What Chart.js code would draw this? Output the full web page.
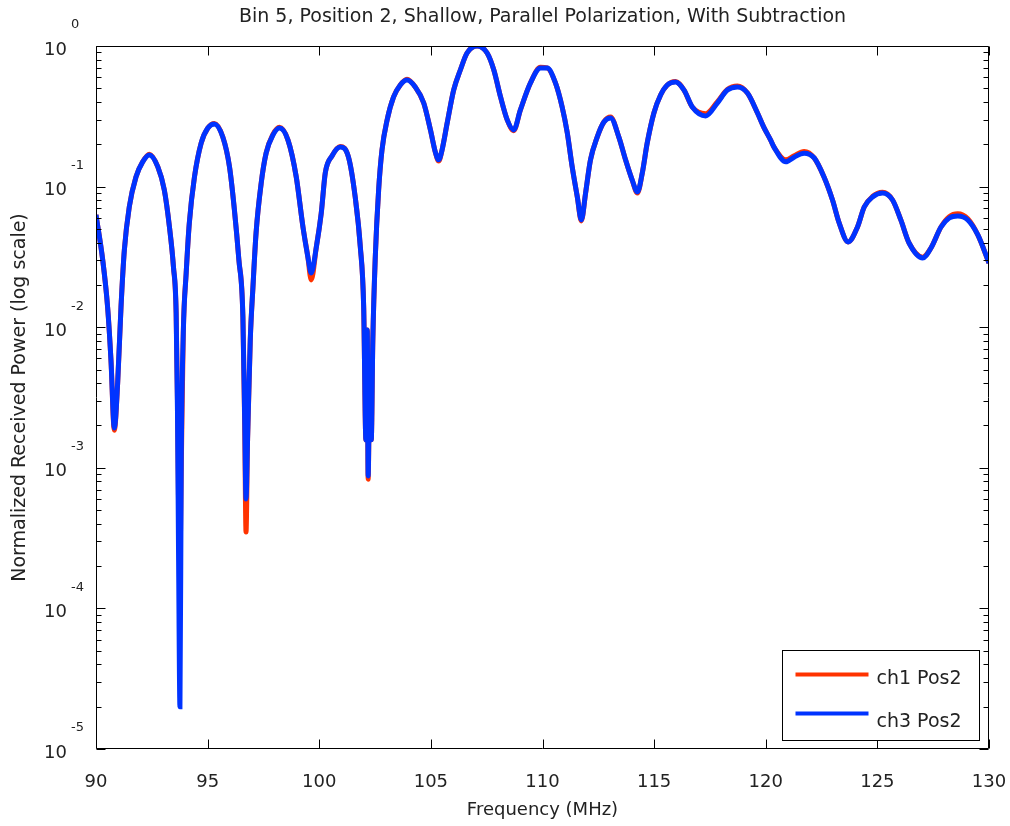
<!DOCTYPE html>
<html>
<head>
<meta charset="utf-8">
<title>Bin 5, Position 2</title>
<script src="https://cdn.jsdelivr.net/npm/chart.js@4.4.1/dist/chart.umd.min.js"></script>
<style>
  html, body { margin: 0; padding: 0; background: #fff; }
</style>
</head>
<body>
<canvas id="powerChart" width="1010" height="826"></canvas>
<script>
// frequency samples (MHz)
const freqMHz = [
  90.00, 90.30, 90.52, 90.67, 90.82, 90.97, 91.12, 91.27, 91.49, 91.79,
  92.09, 92.39, 92.77, 93.06, 93.29, 93.47, 93.59, 93.65, 93.70, 93.76,
  93.82, 93.91, 94.04, 94.18, 94.41, 94.71, 95.01, 95.30, 95.68, 95.98,
  96.20, 96.40, 96.58, 96.66, 96.72, 96.79, 96.91, 97.03, 97.17, 97.40,
  97.62, 97.92, 98.22, 98.60, 98.97, 99.27, 99.49, 99.64, 99.87, 100.09,
  100.27, 100.57, 100.94, 101.31, 101.61, 101.84, 101.99, 102.09, 102.15, 102.19,
  102.26, 102.33, 102.40, 102.51, 102.66, 102.81, 103.04, 103.33, 103.63, 103.93,
  104.30, 104.68, 104.98, 105.20, 105.35, 105.50, 105.73, 106.02, 106.32, 106.62,
  107.07, 107.52, 107.82, 108.12, 108.42, 108.71, 109.01, 109.46, 109.91, 110.21,
  110.58, 110.88, 111.11, 111.33, 111.56, 111.74, 111.93, 112.15, 112.45, 112.75,
  113.05, 113.42, 113.72, 114.02, 114.25, 114.47, 114.69, 114.99, 115.29, 115.59,
  115.96, 116.34, 116.71, 117.31, 117.83, 118.28, 118.73, 119.18, 119.63, 119.91,
  120.22, 120.37, 120.90, 121.27, 121.72, 122.17, 122.61, 122.99, 123.29, 123.69,
  124.11, 124.41, 124.78, 125.23, 125.68, 126.05, 126.42, 127.03, 127.40, 127.85,
  128.22, 128.60, 129.05, 129.50, 130.00
];

// normalized received power, ch3 Pos2 (blue)
const ch3Pos2 = [
  0.063, 0.0301, 0.0139, 0.00585, 0.00192, 0.00401, 0.0139, 0.0354, 0.0716, 0.117,
  0.150, 0.168, 0.138, 0.0946, 0.0516, 0.0268, 0.0126, 0.0025, 0.00022, 0.00002,
  0.0012, 0.0091, 0.0243, 0.0551, 0.117, 0.204, 0.261, 0.279, 0.225, 0.138,
  0.0682, 0.0301, 0.0118, 0.0022, 0.0006, 0.0016, 0.0081, 0.0193, 0.0468, 0.106,
  0.173, 0.232, 0.261, 0.214, 0.117, 0.0516, 0.0316, 0.0243, 0.0372, 0.0649,
  0.125, 0.165, 0.191, 0.162, 0.0843, 0.0372, 0.0139, 0.00158, 0.00955, 0.000875,
  0.00421, 0.00158, 0.0081, 0.0316, 0.0946, 0.182, 0.298, 0.434, 0.528, 0.573,
  0.511, 0.393, 0.253, 0.176, 0.155, 0.182, 0.283, 0.486, 0.675, 0.892,
  1.0, 0.892, 0.675, 0.434, 0.298, 0.253, 0.351, 0.546, 0.698, 0.698,
  0.546, 0.368, 0.241, 0.138, 0.0843, 0.0579, 0.0900, 0.155, 0.225, 0.288,
  0.308, 0.225, 0.155, 0.111, 0.0915, 0.125, 0.204, 0.334, 0.448, 0.528,
  0.555, 0.486, 0.368, 0.318, 0.393, 0.486, 0.511, 0.463, 0.334, 0.265,
  0.214, 0.191, 0.150, 0.162, 0.173, 0.160, 0.117, 0.0803, 0.0551, 0.0404,
  0.0516, 0.0716, 0.0843, 0.0900, 0.0803, 0.0579, 0.0397, 0.0311, 0.0366, 0.0516,
  0.0598, 0.0618, 0.0579, 0.0453, 0.0286
];

// normalized received power, ch1 Pos2 (red) - nearly the same, deeper at some nulls
const ch1Pos2 = [
  0.063, 0.0301, 0.0139, 0.00585, 0.00185, 0.00401, 0.0139, 0.0354, 0.0716, 0.117,
  0.150, 0.170, 0.138, 0.0946, 0.0516, 0.0268, 0.0126, 0.0030, 0.0005, 0.00022,
  0.0010, 0.0091, 0.0243, 0.0551, 0.117, 0.204, 0.261, 0.281, 0.225, 0.138,
  0.0682, 0.0301, 0.0118, 0.0020, 0.00035, 0.0016, 0.0081, 0.0193, 0.0468, 0.106,
  0.173, 0.234, 0.264, 0.214, 0.117, 0.0516, 0.0316, 0.0217, 0.0372, 0.0649,
  0.125, 0.165, 0.193, 0.162, 0.0843, 0.0372, 0.0139, 0.00158, 0.00955, 0.00083,
  0.00421, 0.00158, 0.0081, 0.0316, 0.0946, 0.182, 0.298, 0.434, 0.528, 0.580,
  0.511, 0.393, 0.253, 0.176, 0.152, 0.182, 0.283, 0.486, 0.675, 0.892,
  1.0, 0.892, 0.675, 0.434, 0.298, 0.250, 0.351, 0.546, 0.705, 0.698,
  0.546, 0.368, 0.241, 0.138, 0.0843, 0.0570, 0.0900, 0.155, 0.225, 0.288,
  0.312, 0.225, 0.155, 0.111, 0.0900, 0.125, 0.204, 0.334, 0.448, 0.528,
  0.560, 0.486, 0.368, 0.330, 0.400, 0.490, 0.520, 0.463, 0.334, 0.265,
  0.214, 0.191, 0.155, 0.166, 0.178, 0.160, 0.117, 0.0803, 0.0551, 0.0404,
  0.0516, 0.0716, 0.0850, 0.0910, 0.0803, 0.0579, 0.0397, 0.0315, 0.0366, 0.0516,
  0.0610, 0.0640, 0.0590, 0.0453, 0.0286
];

const xTickValues = [90, 95, 100, 105, 110, 115, 120, 125, 130];
const yTickExponents = [0, -1, -2, -3, -4, -5];

const FONT = '"DejaVu Sans", Verdana, sans-serif';
const TEXT_COLOR = '#222';

function toPoints(values) {
  return freqMHz.map((f, i) => ({ x: f, y: values[i] }));
}

// box, inward ticks and tick labels drawn the MATLAB way
const matlabAxes = {
  id: 'matlabAxes',
  afterDatasetsDraw(chart) {
    const { ctx, chartArea: area, scales: { x, y } } = chart;
    const left = Math.round(area.left) + 0.5;
    const right = Math.round(area.right) - 0.5;
    const top = Math.round(area.top) + 0.5;
    const bottom = Math.round(area.bottom) - 0.5;

    ctx.save();
    ctx.strokeStyle = '#000';
    ctx.lineWidth = 1;
    ctx.beginPath();
    ctx.rect(left, top, right - left, bottom - top);

    xTickValues.forEach((v) => {
      const px = Math.round(x.getPixelForValue(v)) + 0.5;
      ctx.moveTo(px, bottom); ctx.lineTo(px, bottom - 9);
      ctx.moveTo(px, top); ctx.lineTo(px, top + 9);
    });

    yTickExponents.forEach((e) => {
      for (let m = 1; m <= 9; m++) {
        if (e === 0 && m > 1) break;
        const py = Math.round(y.getPixelForValue(m * Math.pow(10, e))) + 0.5;
        const len = m === 1 ? 9 : 5;
        ctx.moveTo(left, py); ctx.lineTo(left + len, py);
        ctx.moveTo(right, py); ctx.lineTo(right - len, py);
      }
    });
    ctx.stroke();

    ctx.fillStyle = TEXT_COLOR;
    ctx.font = '18px ' + FONT;
    ctx.textAlign = 'center';
    ctx.textBaseline = 'middle';
    xTickValues.forEach((v) => {
      ctx.fillText(String(v), x.getPixelForValue(v), area.bottom + 33);
    });

    yTickExponents.forEach((e) => {
      const py = y.getPixelForValue(Math.pow(10, e));
      ctx.font = '18px ' + FONT;
      ctx.textAlign = 'right';
      ctx.fillText('10', area.left - 29, py + 4);
      ctx.font = '13px ' + FONT;
      ctx.textAlign = 'left';
      ctx.fillText(String(e), area.left - 25, py - 21);
    });
    ctx.restore();
  }
};

// legend box inside the lower right corner of the axes
const insideLegend = {
  id: 'insideLegend',
  afterDraw(chart) {
    const { ctx, chartArea: area } = chart;
    const w = 197, h = 90;
    const bx = Math.round(area.right) - 10 - w + 0.5;
    const by = Math.round(area.bottom) - 9 - h + 0.5;
    ctx.save();
    ctx.fillStyle = '#fff';
    ctx.fillRect(bx, by, w, h);
    ctx.strokeStyle = '#000';
    ctx.lineWidth = 1;
    ctx.strokeRect(bx, by, w, h);

    const rows = [24, 63];
    const textRows = [29, 72];
    chart.data.datasets.forEach((ds, i) => {
      ctx.strokeStyle = ds.borderColor;
      ctx.lineWidth = 4;
      ctx.beginPath();
      ctx.moveTo(bx + 13, by + rows[i]);
      ctx.lineTo(bx + 86, by + rows[i]);
      ctx.stroke();
      ctx.fillStyle = TEXT_COLOR;
      ctx.font = '19px ' + FONT;
      ctx.textAlign = 'left';
      ctx.textBaseline = 'middle';
      ctx.fillText(ds.label, bx + 94, by + textRows[i]);
    });
    ctx.restore();
  }
};

const ctx = document.getElementById('powerChart');

new Chart(ctx, {
  type: 'line',
  data: {
    datasets: [{
      label: 'ch1 Pos2',
      data: toPoints(ch1Pos2),
      borderColor: '#ff3300',
      borderWidth: 5,
      pointRadius: 0,
      cubicInterpolationMode: 'monotone',
      order: 1
    }, {
      label: 'ch3 Pos2',
      data: toPoints(ch3Pos2),
      borderColor: '#0033ff',
      borderWidth: 5,
      pointRadius: 0,
      cubicInterpolationMode: 'monotone',
      order: 0
    }]
  },
  options: {
    responsive: false,
    animation: false,
    layout: {
      padding: { left: 0, right: 21, top: 0, bottom: 0 }
    },
    plugins: {
      legend: { display: false },
      tooltip: { enabled: false },
      title: {
        display: true,
        fullSize: false,
        text: 'Bin 5, Position 2, Shallow, Parallel Polarization, With Subtraction',
        color: TEXT_COLOR,
        font: { family: FONT, size: 19, weight: 'normal' },
        padding: { top: 5.6, bottom: 17.6 }
      }
    },
    scales: {
      x: {
        type: 'linear',
        min: 90,
        max: 130,
        grid: { display: false },
        border: { display: false },
        ticks: { display: false, stepSize: 5 },
        title: {
          display: true,
          text: 'Frequency (MHz)',
          color: TEXT_COLOR,
          font: { family: FONT, size: 18 },
          padding: { top: 0, bottom: 5 }
        },
        afterFit(scale) { scale.height = 77; }
      },
      y: {
        type: 'logarithmic',
        min: 1e-5,
        max: 1,
        grid: { display: false },
        border: { display: false },
        ticks: { display: false },
        title: {
          display: true,
          text: 'Normalized Received Power (log scale)',
          color: TEXT_COLOR,
          font: { family: FONT, size: 19 },
          padding: { top: 8.6, bottom: 0 }
        },
        afterFit(scale) { scale.width = 96; }
      }
    }
  },
  plugins: [matlabAxes, insideLegend]
});
</script>
</body>
</html>
